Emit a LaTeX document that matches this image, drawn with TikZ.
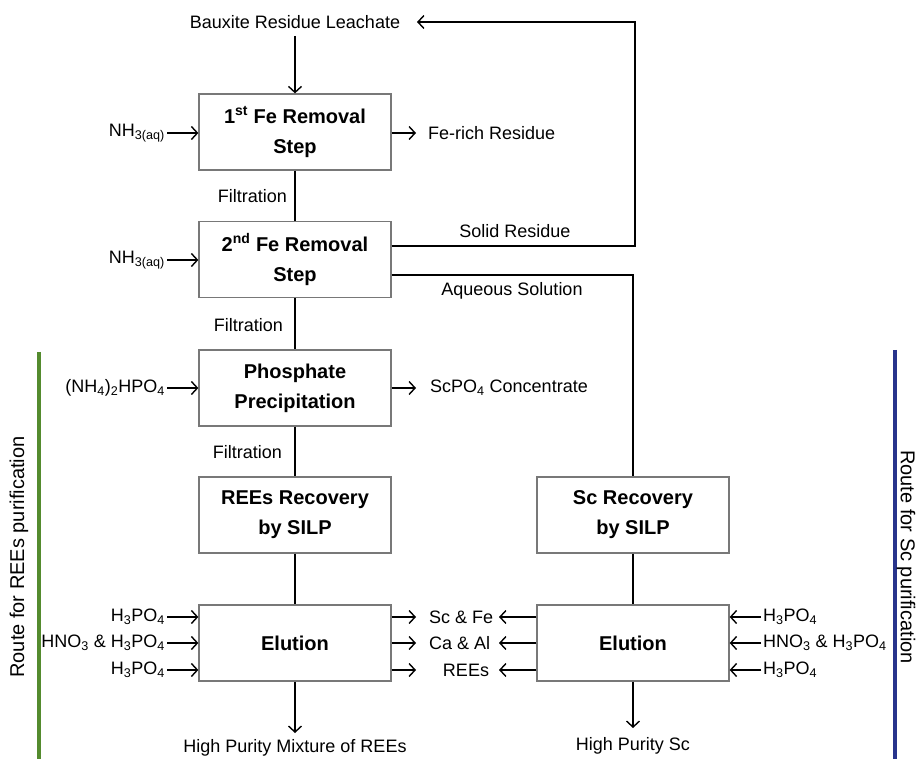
\documentclass[tikz,border=0pt]{standalone}
\usepackage{fontspec}
\setmainfont{Liberation Sans}
\usetikzlibrary{arrows.meta}
\definecolor{routegreen}{RGB}{84,139,46}
\definecolor{routeblue}{RGB}{40,52,140}
\definecolor{boxgray}{RGB}{120,120,120}
\tikzset{
  procbox/.style={draw=boxgray, line width=1.3pt, fill=white, minimum width=192pt, minimum height=76pt,
    align=center, font=\fontsize{20}{30}\selectfont\bfseries, inner sep=0pt},
  conn/.style={line width=1.4pt, black},
  arr/.style={conn, -{Straight Barb[length=6pt,width=13pt,line width=1.4pt]}},
  inlbl/.style={anchor=east, inner xsep=2pt, inner ysep=0pt},
  lbl/.style={inner sep=0pt},
  routelbl/.style={inner sep=0pt, font=\fontsize{20}{22}\selectfont}
}
\begin{document}
\begin{tikzpicture}[x=1pt, y=-1pt, font=\fontsize{18}{20}\selectfont]
\useasboundingbox (0,0) rectangle (919,759);

% process boxes
\node[procbox] (b1) at (295,132) {1\textsuperscript{st} Fe Removal\\Step};
\node[procbox] (b2) at (295,259.5) {2\textsuperscript{nd} Fe Removal\\Step};
\node[procbox] (b3) at (295,388) {Phosphate\\Precipitation};
\node[procbox] (b4) at (295,515) {REEs Recovery\\by SILP};
\node[procbox] (b5) at (295,643) {Elution};
\node[procbox] (s4) at (633,515) {Sc Recovery\\by SILP};
\node[procbox] (s5) at (633,643) {Elution};

% top
\node[lbl] (bx) at (295,22) {Bauxite Residue Leachate};
\draw[arr] ([yshift=-7pt]bx.south) -- (b1.north);

% vertical links
\draw[conn] (b1) -- (b2);
\draw[conn] (b2) -- (b3);
\draw[conn] (b3) -- (b4);
\draw[conn] (b4) -- (b5);
\draw[conn] (s4) -- (s5);
\node[lbl, anchor=east] (f1) at (287,196) {Filtration};
\node[lbl, anchor=east] (f2) at (283,325) {Filtration};
\node[lbl, anchor=east] (f3) at (282,452) {Filtration};

% bottom outputs
\coordinate (e5) at (295,733);
\draw[arr] (b5) -- (e5);
\node[lbl] (hpm) at (295,748) {High Purity Mixture of REEs};
\coordinate (e6) at (633,728);
\draw[arr] (s5) -- (e6);
\node[lbl] (hps) at (633,746) {High Purity Sc};

% recycle loop
\coordinate (sr) at (635,246);
\coordinate (bxin) at (417,22);
\draw[arr] (b2.east |- sr) -- (sr) -- (sr |- bxin) -- (bxin);
\node[lbl] (srl) at (515,231) {Solid Residue};
\coordinate (aq) at (633,275);
\draw[conn] (b2.east |- aq) -- (aq) -- (s4.north);
\node[lbl] (aql) at (512,291) {Aqueous Solution};

% left inputs
\node[inlbl] (n1) at (167,133) {NH\textsubscript{3(aq)}};
\draw[arr] (n1.east) -- (n1.east -| b1.west);
\node[inlbl] (n2) at (167,260) {NH\textsubscript{3(aq)}};
\draw[arr] (n2.east) -- (n2.east -| b2.west);
\node[inlbl] (dap) at (167,388) {(NH\textsubscript{4})\textsubscript{2}HPO\textsubscript{4}};
\draw[arr] (dap.east) -- (dap.east -| b3.west);

% right outputs
\coordinate (fe) at (416,133);
\draw[arr] (b1.east |- fe) -- (fe);
\node[lbl, anchor=west] (fel) at (428,133) {Fe-rich Residue};
\coordinate (scp) at (416,388);
\draw[arr] (b3.east |- scp) -- (scp);
\node[lbl, anchor=west] (scpl) at (430,388) {ScPO\textsubscript{4} Concentrate};

% left elution inputs
\node[inlbl] (la) at (167,617) {H\textsubscript{3}PO\textsubscript{4}};
\node[inlbl] (lb) at (167,643) {HNO\textsubscript{3} \& H\textsubscript{3}PO\textsubscript{4}};
\node[inlbl] (lc) at (167,670) {H\textsubscript{3}PO\textsubscript{4}};
\draw[arr] (la.east) -- (la.east -| b5.west);
\draw[arr] (lb.east) -- (lb.east -| b5.west);
\draw[arr] (lc.east) -- (lc.east -| b5.west);

% middle outputs
\coordinate (ma) at (416,617);
\coordinate (mb) at (416,643);
\coordinate (mc) at (416,670);
\draw[arr] (b5.east |- ma) -- (ma);
\draw[arr] (b5.east |- mb) -- (mb);
\draw[arr] (b5.east |- mc) -- (mc);
\node[lbl, anchor=west] (oa) at (429,617) {Sc \& Fe};
\node[lbl, anchor=west] (ob) at (429,643) {Ca \& Al};
\node[lbl] (oc) at (466,670) {REEs};
\coordinate (na) at (499,617);
\coordinate (nb) at (499,643);
\coordinate (nc) at (499,670);
\draw[arr] (s5.west |- na) -- (na);
\draw[arr] (s5.west |- nb) -- (nb);
\draw[arr] (s5.west |- nc) -- (nc);

% right elution inputs
\node[lbl, anchor=west, inner xsep=2pt] (ra) at (761,617) {H\textsubscript{3}PO\textsubscript{4}};
\node[lbl, anchor=west, inner xsep=2pt] (rb) at (761,643) {HNO\textsubscript{3} \& H\textsubscript{3}PO\textsubscript{4}};
\node[lbl, anchor=west, inner xsep=2pt] (rc) at (761,670) {H\textsubscript{3}PO\textsubscript{4}};
\draw[arr] (ra.west) -- (ra.west -| s5.east);
\draw[arr] (rb.west) -- (rb.west -| s5.east);
\draw[arr] (rc.west) -- (rc.west -| s5.east);

% route bars
\draw[routegreen, line width=4pt] (39,352) -- (39,759);
\draw[routeblue, line width=4pt] (895,350) -- (895,759);
\node[routelbl, rotate=90] (rl) at (19,557) {Route for REEs purification};
\node[routelbl, rotate=-90] (rr) at (906,557) {Route for Sc purification};
\end{tikzpicture}
\end{document}
